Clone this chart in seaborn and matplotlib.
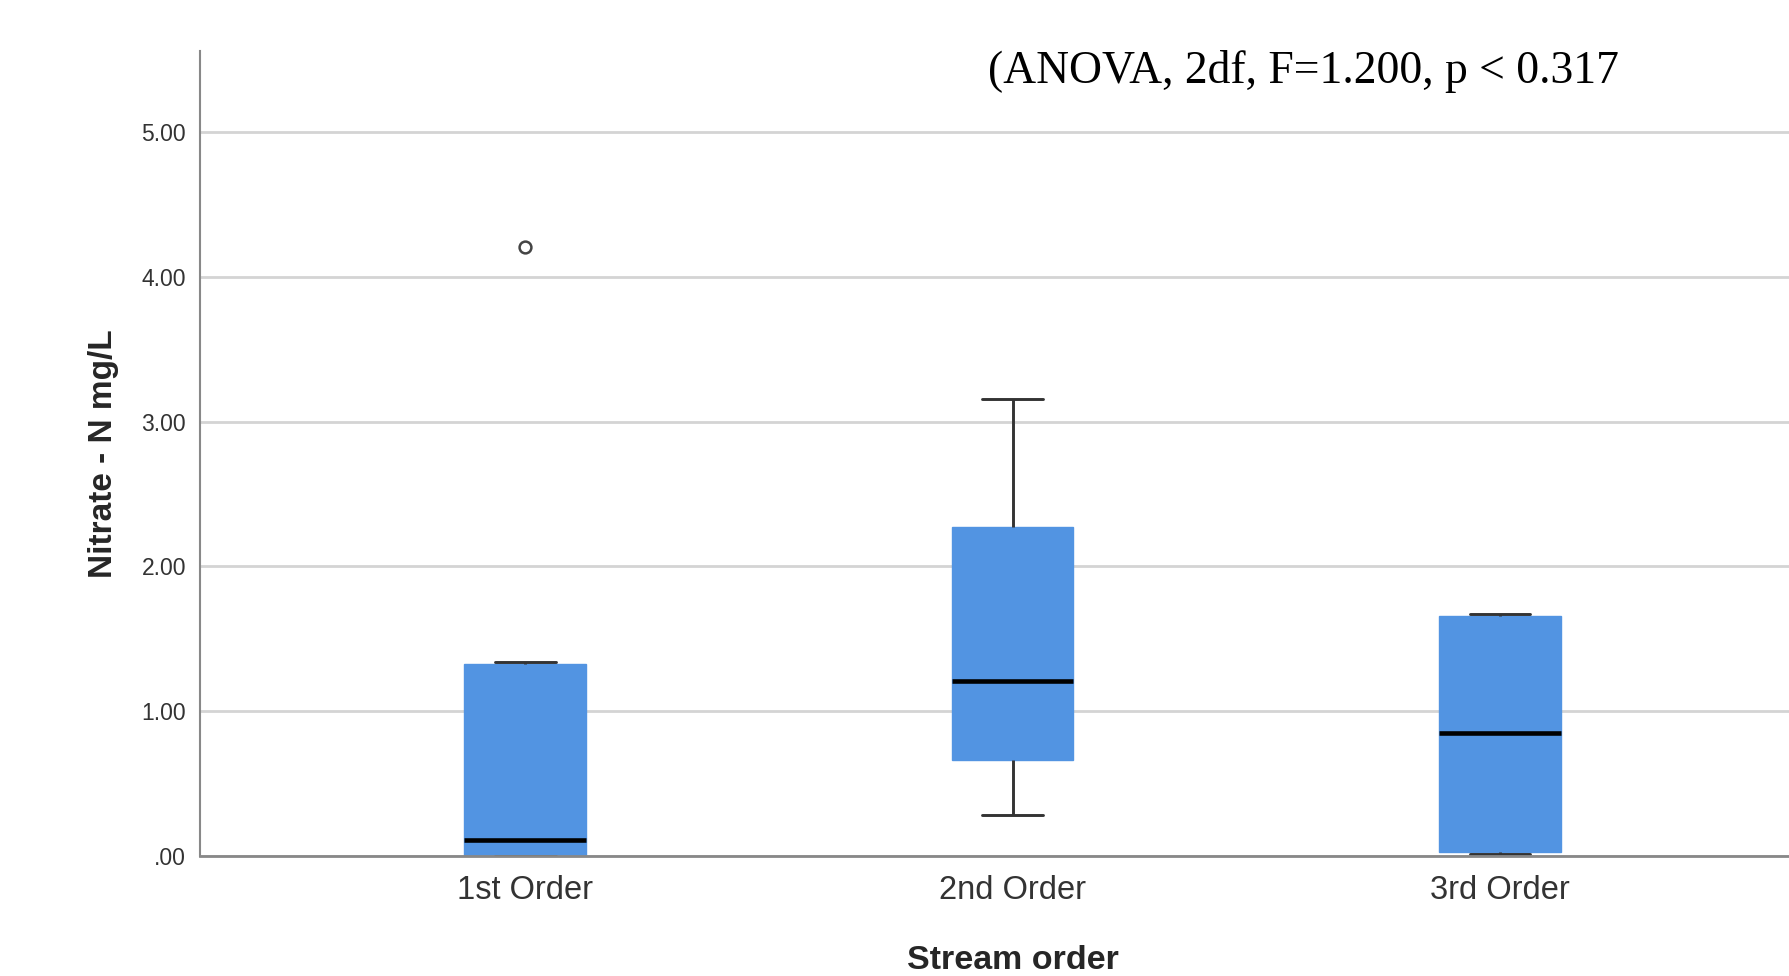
import pandas as pd
import seaborn as sns
import matplotlib.pyplot as plt

# sample values (chosen so quartiles / whiskers match)
orders = ['1st Order', '2nd Order', '3rd Order']
first_order = [0.0, 0.0, 0.0, 0.05, 0.11, 0.60, 1.325, 1.34, 4.21]
second_order = [0.28, 0.66, 1.21, 2.27, 3.16]
third_order = [0.015, 0.03, 0.85, 1.66, 1.67]
y_ticks = [0, 1, 2, 3, 4, 5]
y_tick_labels = ['.00', '1.00', '2.00', '3.00', '4.00', '5.00']

df = pd.DataFrame({
    'order': [orders[0]] * len(first_order) + [orders[1]] * len(second_order)
             + [orders[2]] * len(third_order),
    'nitrate': first_order + second_order + third_order,
})

sns.set_style('white')
plt.rcParams['font.family'] = ['Liberation Sans', 'DejaVu Sans']

box_color = '#5294E2'
fig = plt.figure(figsize=(17.9, 9.76), dpi=100)
ax = fig.add_axes([0.1117, 0.123, 0.8883, 0.825])

ax.yaxis.grid(True, color='#d4d4d4', linewidth=2, zorder=0)
ax.set_axisbelow(True)

sns.boxplot(
    data=df, x='order', y='nitrate', order=orders, ax=ax,
    color=box_color, saturation=1, width=0.25,
    boxprops=dict(facecolor=box_color, edgecolor=box_color, linewidth=1),
    whiskerprops=dict(color='#333333', linewidth=2.1),
    capprops=dict(color='#333333', linewidth=2.1),
    medianprops=dict(color='black', linewidth=3.3),
    flierprops=dict(marker='o', markerfacecolor='white', markeredgecolor='#444444',
                    markersize=8.5, markeredgewidth=1.8),
)

ax.set_xlim(-0.667, 2.595)
ax.set_ylim(0, 5.563)
ax.set_yticks(y_ticks)
ax.set_yticklabels(y_tick_labels)
ax.tick_params(axis='y', length=0, pad=10, labelsize=16.5, labelcolor='#333333')
ax.tick_params(axis='x', length=0, pad=14, labelsize=23.5, labelcolor='#333333')

for side in ['top', 'right']:
    ax.spines[side].set_visible(False)
ax.spines['left'].set_color('#888888')
ax.spines['left'].set_linewidth(1.5)
ax.spines['bottom'].set_color('#888888')
ax.spines['bottom'].set_linewidth(2)

ax.set_xlabel('Stream order', fontsize=24.5, fontweight='bold', labelpad=20)
ax.xaxis.set_label_coords(0.511, -0.11)
ax.set_ylabel('Nitrate - N mg/L', fontsize=24, fontweight='bold', labelpad=16)

fig.text(0.552, 0.915, '(ANOVA, 2df, F=1.200, p < 0.317', fontsize=32.9,
         color='black', family=['Liberation Serif', 'DejaVu Serif'],
         va='baseline', ha='left')

fig.savefig('out.png', dpi=100)
